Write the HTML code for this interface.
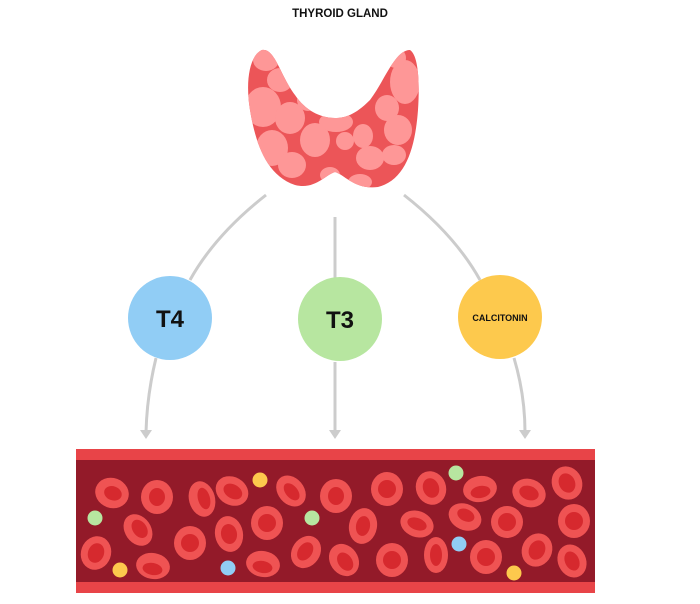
<!DOCTYPE html>
<html><head><meta charset="utf-8"><style>
html,body{margin:0;padding:0;background:#fff;}
svg{display:block;}
</style></head><body>
<svg width="700" height="604" viewBox="0 0 700 604" xmlns="http://www.w3.org/2000/svg">
<text x="340" y="17" text-anchor="middle" font-family="Liberation Sans, sans-serif" font-weight="bold" font-size="11.5" fill="#111">THYROID GLAND</text>
<defs>
<clipPath id="th"><path d="M262,50 C250,55 245,80 250,110 C255,140 265,175 295,185 C315,190 325,175 335,172 C345,175 355,190 378,187 C405,180 415,150 418,110 C420,80 418,55 410,50 C395,50 385,80 370,100 C355,115 345,118 335,118 C320,118 305,110 295,95 C280,75 275,48 262,50 Z"/></clipPath>
</defs>
<g clip-path="url(#th)">
<rect x="240" y="40" width="190" height="160" fill="#ec5558"/>
<g fill="#fe9797">
<ellipse cx="266" cy="60" rx="13" ry="11"/>
<ellipse cx="280" cy="80" rx="13" ry="12"/>
<ellipse cx="263" cy="107" rx="18" ry="20"/>
<ellipse cx="290" cy="118" rx="15" ry="16"/>
<ellipse cx="308" cy="100" rx="11" ry="11"/>
<ellipse cx="272" cy="148" rx="16" ry="18"/>
<ellipse cx="292" cy="165" rx="14" ry="13"/>
<ellipse cx="315" cy="140" rx="15" ry="17"/>
<ellipse cx="336" cy="122" rx="17" ry="10"/>
<ellipse cx="345" cy="141" rx="9" ry="9"/>
<ellipse cx="363" cy="136" rx="10" ry="12"/>
<ellipse cx="370" cy="158" rx="14" ry="12"/>
<ellipse cx="387" cy="108" rx="12" ry="13"/>
<ellipse cx="398" cy="130" rx="14" ry="15"/>
<ellipse cx="405" cy="82" rx="15" ry="22"/>
<ellipse cx="396" cy="58" rx="10" ry="10"/>
<ellipse cx="394" cy="155" rx="12" ry="10"/>
<ellipse cx="330" cy="175" rx="10" ry="8"/>
<ellipse cx="360" cy="182" rx="12" ry="8"/>
</g>
</g>
<g stroke="#cccccc" stroke-width="3" fill="none">
<path d="M266,195 Q215,235 190,280"/>
<path d="M335,217 L335,278"/>
<path d="M404,195 Q455,235 480,280"/>
<path d="M156,358 Q147,395 146,432"/>
<path d="M335,362 L335,432"/>
<path d="M514,358 Q525,395 525,432"/>
</g>
<g fill="#cccccc">
<path d="M140,430 L152,430 L146,439 Z"/>
<path d="M329,430 L341,430 L335,439 Z"/>
<path d="M519,430 L531,430 L525,439 Z"/>
</g>
<circle cx="170" cy="318" r="42" fill="#91cdf5"/>
<circle cx="340" cy="319" r="42" fill="#b7e6a0"/>
<circle cx="500" cy="317" r="42" fill="#fdc94d"/>
<g font-family="Liberation Sans, sans-serif" font-weight="bold" fill="#111" text-anchor="middle">
<text x="170" y="327" font-size="24">T4</text>
<text x="340" y="328" font-size="24">T3</text>
<text x="500" y="321" font-size="9">CALCITONIN</text>
</g>
<rect x="76" y="449" width="519" height="144" fill="#e84448"/>
<rect x="76" y="460" width="519" height="122" fill="#931a29"/>
<g id="cells">
<g transform="translate(112,493) rotate(20)"><ellipse rx="17" ry="15" fill="#ef5353"/><ellipse cx="1" rx="9" ry="7" fill="#d6292e"/></g>
<g transform="translate(157,497)"><ellipse rx="16" ry="17" fill="#ef5353"/><ellipse rx="8" ry="9" fill="#d6292e"/></g>
<g transform="translate(202,499) rotate(-15)"><ellipse rx="13" ry="18" fill="#ef5353"/><ellipse cx="2" rx="6" ry="11" fill="#d6292e"/></g>
<g transform="translate(232,491) rotate(30)"><ellipse rx="17" ry="14" fill="#ef5353"/><ellipse cx="1" rx="10" ry="7" fill="#d6292e"/></g>
<g transform="translate(291,491) rotate(50)"><ellipse rx="17" ry="13" fill="#ef5353"/><ellipse cx="1" rx="10" ry="6" fill="#d6292e"/></g>
<g transform="translate(336,496)"><ellipse rx="16" ry="17" fill="#ef5353"/><ellipse rx="8" ry="9" fill="#d6292e"/></g>
<g transform="translate(387,489)"><ellipse rx="16" ry="17" fill="#ef5353"/><ellipse rx="9" ry="9" fill="#d6292e"/></g>
<g transform="translate(431,488) rotate(-20)"><ellipse rx="15" ry="17" fill="#ef5353"/><ellipse rx="8" ry="10" fill="#d6292e"/></g>
<g transform="translate(480,489) rotate(-10)"><ellipse rx="17" ry="13" fill="#ef5353"/><ellipse cy="3" rx="10" ry="6" fill="#d6292e"/></g>
<g transform="translate(529,493) rotate(20)"><ellipse rx="17" ry="14" fill="#ef5353"/><ellipse rx="10" ry="7" fill="#d6292e"/></g>
<g transform="translate(567,483) rotate(-25)"><ellipse rx="15" ry="17" fill="#ef5353"/><ellipse rx="8" ry="10" fill="#d6292e"/></g>
<g transform="translate(138,530) rotate(-35)"><ellipse rx="13" ry="17" fill="#ef5353"/><ellipse cx="2" rx="7" ry="10" fill="#d6292e"/></g>
<g transform="translate(190,543)"><ellipse rx="16" ry="17" fill="#ef5353"/><ellipse rx="9" ry="9" fill="#d6292e"/></g>
<g transform="translate(229,534) rotate(-10)"><ellipse rx="14" ry="18" fill="#ef5353"/><ellipse rx="8" ry="10" fill="#d6292e"/></g>
<g transform="translate(267,523)"><ellipse rx="16" ry="17" fill="#ef5353"/><ellipse rx="9" ry="9" fill="#d6292e"/></g>
<g transform="translate(363,526) rotate(10)"><ellipse rx="14" ry="18" fill="#ef5353"/><ellipse rx="7" ry="10" fill="#d6292e"/></g>
<g transform="translate(417,524) rotate(20)"><ellipse rx="17" ry="13" fill="#ef5353"/><ellipse rx="10" ry="6" fill="#d6292e"/></g>
<g transform="translate(465,517) rotate(25)"><ellipse rx="17" ry="13" fill="#ef5353"/><ellipse cy="-2" rx="9" ry="6" fill="#d6292e"/></g>
<g transform="translate(507,522)"><ellipse rx="16" ry="16" fill="#ef5353"/><ellipse rx="9" ry="9" fill="#d6292e"/></g>
<g transform="translate(574,521)"><ellipse rx="16" ry="17" fill="#ef5353"/><ellipse rx="9" ry="9" fill="#d6292e"/></g>
<g transform="translate(96,553) rotate(20)"><ellipse rx="15" ry="17" fill="#ef5353"/><ellipse rx="8" ry="10" fill="#d6292e"/></g>
<g transform="translate(153,566) rotate(10)"><ellipse rx="17" ry="13" fill="#ef5353"/><ellipse cy="3" rx="10" ry="6" fill="#d6292e"/></g>
<g transform="translate(263,564) rotate(10)"><ellipse rx="17" ry="13" fill="#ef5353"/><ellipse cy="3" rx="10" ry="6" fill="#d6292e"/></g>
<g transform="translate(306,552) rotate(35)"><ellipse rx="14" ry="17" fill="#ef5353"/><ellipse cx="-1" rx="7" ry="10" fill="#d6292e"/></g>
<g transform="translate(344,560) rotate(-35)"><ellipse rx="14" ry="17" fill="#ef5353"/><ellipse cy="2" rx="7" ry="10" fill="#d6292e"/></g>
<g transform="translate(392,560)"><ellipse rx="16" ry="17" fill="#ef5353"/><ellipse rx="9" ry="9" fill="#d6292e"/></g>
<g transform="translate(436,555)"><ellipse rx="12" ry="18" fill="#ef5353"/><ellipse rx="6" ry="11" fill="#d6292e"/></g>
<g transform="translate(486,557)"><ellipse rx="16" ry="17" fill="#ef5353"/><ellipse rx="9" ry="9" fill="#d6292e"/></g>
<g transform="translate(537,550) rotate(25)"><ellipse rx="15" ry="17" fill="#ef5353"/><ellipse rx="8" ry="10" fill="#d6292e"/></g>
<g transform="translate(572,561) rotate(-25)"><ellipse rx="14" ry="17" fill="#ef5353"/><ellipse rx="7" ry="10" fill="#d6292e"/></g>
</g>
<circle cx="95" cy="518" r="7.5" fill="#b7e6a0"/>
<circle cx="260" cy="480" r="7.5" fill="#fdc94d"/>
<circle cx="312" cy="518" r="7.5" fill="#b7e6a0"/>
<circle cx="456" cy="473" r="7.5" fill="#b7e6a0"/>
<circle cx="459" cy="544" r="7.5" fill="#91cdf5"/>
<circle cx="228" cy="568" r="7.5" fill="#91cdf5"/>
<circle cx="120" cy="570" r="7.5" fill="#fdc94d"/>
<circle cx="514" cy="573" r="7.5" fill="#fdc94d"/>
</svg>
</body></html>
